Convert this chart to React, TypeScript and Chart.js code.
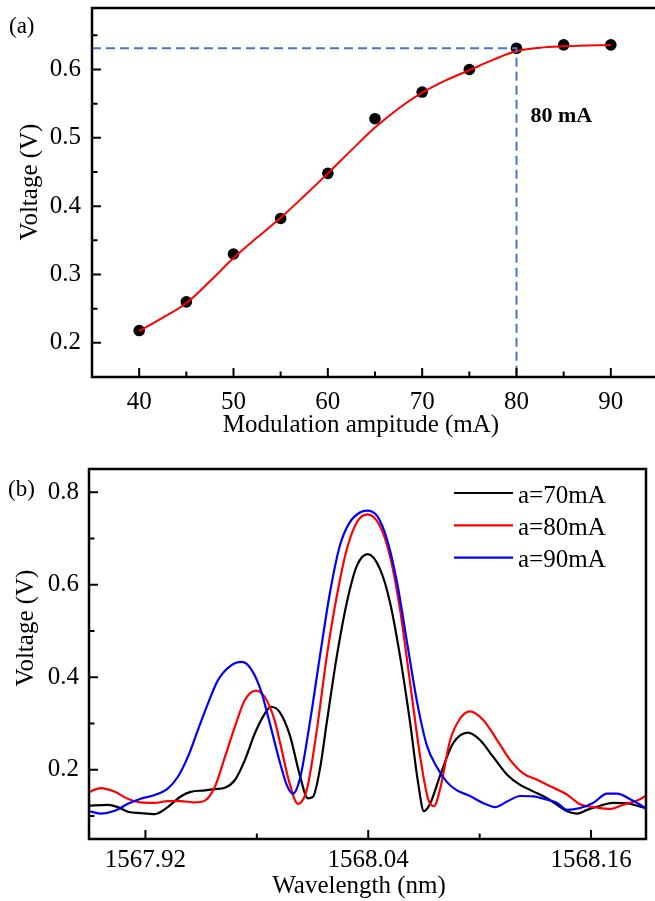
import React, { useEffect, useRef } from "react";
import { Chart, registerables } from "chart.js";

Chart.register(...registerables);

const SERIF = '"Liberation Serif", "Times New Roman", Times, serif';

// ---------- Panel (a) ----------
const ampMeasuredX = [40, 45, 50, 55, 60, 65, 70, 75, 80, 85, 90];
const ampMeasuredV = [0.218, 0.26, 0.33, 0.382, 0.448, 0.528, 0.567, 0.6, 0.631, 0.636, 0.636];
const ampFitX = [40, 42.5, 45, 47.5, 50, 52.5, 55, 57.5, 60, 62.5, 65, 67.5, 70, 72.5, 75, 77.5, 80, 82.5, 85, 87.5, 90];
const ampFitV = [0.217, 0.237, 0.258, 0.29, 0.324, 0.354, 0.383, 0.415, 0.448, 0.482, 0.515, 0.543, 0.566, 0.584, 0.599, 0.614, 0.627, 0.632, 0.634, 0.635, 0.636];
const guideX = [35, 80, 80];
const guideV = [0.631, 0.631, 0.15];
const ampTicks = [40, 50, 60, 70, 80, 90];
const ampMinorTicks = [45, 55, 65, 75, 85];
const voltTicksA = [0.2, 0.3, 0.4, 0.5, 0.6];
const voltMinorA = [0.25, 0.35, 0.45, 0.55, 0.65];

// ---------- Panel (b) ----------
const wavelength70 = [1567.8889, 1567.8997, 1567.9051, 1567.9105, 1567.9175, 1567.925, 1567.932, 1567.939, 1567.9444, 1567.952, 1567.9574, 1567.9628, 1567.9681, 1567.9735, 1567.9789, 1567.9843, 1567.9876, 1567.9924, 1567.9978, 1568.0032, 1568.0075, 1568.0102, 1568.014, 1568.0177, 1568.0231, 1568.0285, 1568.0339, 1568.0398, 1568.0463, 1568.0517, 1568.0571, 1568.0625, 1568.0668, 1568.07, 1568.0733, 1568.0787, 1568.0857, 1568.0937, 1568.1002, 1568.1072, 1568.1148, 1568.1218, 1568.1288, 1568.1363, 1568.1417, 1568.1471, 1568.1525, 1568.1579, 1568.1649, 1568.1719, 1568.1795, 1568.1865, 1568.1902];
const voltage70 = [0.122, 0.124, 0.119, 0.109, 0.106, 0.104, 0.119, 0.142, 0.152, 0.155, 0.158, 0.161, 0.177, 0.22, 0.278, 0.321, 0.336, 0.324, 0.274, 0.187, 0.138, 0.141, 0.202, 0.303, 0.446, 0.562, 0.641, 0.666, 0.634, 0.562, 0.446, 0.303, 0.173, 0.11, 0.126, 0.187, 0.257, 0.28, 0.264, 0.228, 0.189, 0.167, 0.153, 0.138, 0.124, 0.11, 0.105, 0.113, 0.122, 0.128, 0.127, 0.12, 0.117];

const wavelength80 = [1567.8889, 1567.8959, 1567.9035, 1567.9105, 1567.9175, 1567.925, 1567.932, 1567.939, 1567.9466, 1567.952, 1567.9574, 1567.9628, 1567.9681, 1567.9735, 1567.9795, 1567.9843, 1567.9897, 1567.9924, 1567.9978, 1568.0021, 1568.007, 1568.0124, 1568.0177, 1568.0231, 1568.0285, 1568.0339, 1568.0398, 1568.0463, 1568.0517, 1568.0571, 1568.0625, 1568.0679, 1568.0722, 1568.0754, 1568.0787, 1568.084, 1568.0894, 1568.0948, 1568.1018, 1568.1094, 1568.1164, 1568.1234, 1568.1309, 1568.138, 1568.1471, 1568.1541, 1568.1633, 1568.1703, 1568.1773, 1568.1849, 1568.1902];
const voltage80 = [0.15, 0.16, 0.152, 0.137, 0.129, 0.128, 0.132, 0.132, 0.129, 0.133, 0.163, 0.227, 0.292, 0.35, 0.371, 0.357, 0.305, 0.26, 0.168, 0.126, 0.158, 0.288, 0.446, 0.576, 0.677, 0.735, 0.752, 0.727, 0.662, 0.547, 0.389, 0.23, 0.137, 0.121, 0.158, 0.262, 0.31, 0.326, 0.308, 0.264, 0.221, 0.192, 0.178, 0.164, 0.146, 0.125, 0.118, 0.115, 0.124, 0.133, 0.145];

const wavelength90 = [1567.8889, 1567.8959, 1567.9035, 1567.9105, 1567.9175, 1567.925, 1567.932, 1567.9374, 1567.9428, 1567.9482, 1567.9536, 1567.959, 1567.966, 1567.9719, 1567.9768, 1567.9822, 1567.987, 1567.9924, 1567.9962, 1567.9994, 1568.0032, 1568.0086, 1568.014, 1568.0194, 1568.0247, 1568.0301, 1568.0355, 1568.0393, 1568.0447, 1568.0501, 1568.0555, 1568.0609, 1568.0663, 1568.0716, 1568.077, 1568.0824, 1568.0878, 1568.0948, 1568.1018, 1568.1083, 1568.1148, 1568.1218, 1568.1288, 1568.1363, 1568.1417, 1568.1471, 1568.1541, 1568.1611, 1568.1687, 1568.1741, 1568.1811, 1568.1865, 1568.1902];
const voltage90 = [0.111, 0.105, 0.111, 0.126, 0.137, 0.145, 0.159, 0.184, 0.227, 0.285, 0.342, 0.393, 0.425, 0.433, 0.418, 0.371, 0.3, 0.216, 0.166, 0.148, 0.18, 0.303, 0.446, 0.583, 0.684, 0.735, 0.756, 0.76, 0.749, 0.698, 0.605, 0.475, 0.346, 0.252, 0.205, 0.173, 0.155, 0.143, 0.128, 0.119, 0.131, 0.143, 0.142, 0.135, 0.128, 0.113, 0.117, 0.128, 0.148, 0.148, 0.136, 0.124, 0.113];

const seriesLabels = ["a=70mA", "a=80mA", "a=90mA"];
const seriesColors = ["#000000", "#ff0000", "#0000ff"];
const wlTicks = [1567.92, 1568.04, 1568.16];
const wlMinorTicks = [1567.98, 1568.1];
const voltTicksB = [0.2, 0.4, 0.6, 0.8];
const voltMinorB = [0.1, 0.3, 0.5, 0.7];

const pts = (xs: number[], ys: number[]) => xs.map((x, i) => ({ x, y: ys[i] }));

function framePlugin(o: any) {
  return {
    id: "frame",
    afterDraw(chart: any) {
      const { ctx, chartArea: a } = chart;
      const xs = chart.scales.x;
      const ys = chart.scales.y;
      ctx.save();
      ctx.strokeStyle = "#000";
      ctx.lineWidth = 2;
      ctx.beginPath();
      for (const v of o.xMajor) { const p = xs.getPixelForValue(v); ctx.moveTo(p, a.bottom); ctx.lineTo(p, a.bottom - 9); }
      for (const v of o.xMinor) { const p = xs.getPixelForValue(v); ctx.moveTo(p, a.bottom); ctx.lineTo(p, a.bottom - 5.5); }
      for (const v of o.yMajor) { const p = ys.getPixelForValue(v); ctx.moveTo(a.left, p); ctx.lineTo(a.left + 9, p); }
      for (const v of o.yMinor) { const p = ys.getPixelForValue(v); ctx.moveTo(a.left, p); ctx.lineTo(a.left + 5.5, p); }
      ctx.stroke();
      ctx.lineWidth = 2.5;
      ctx.lineCap = "square";
      ctx.beginPath();
      ctx.moveTo(a.right, a.top);
      ctx.lineTo(a.left, a.top);
      ctx.lineTo(a.left, a.bottom);
      ctx.lineTo(a.right, a.bottom);
      if (o.rightBorder) ctx.lineTo(a.right, a.top);
      ctx.stroke();
      ctx.fillStyle = "#000";
      o.draw(ctx, chart);
      ctx.restore();
    },
  };
}

function baseScales(o: any) {
  return {
    x: {
      type: "linear",
      min: o.xMin,
      max: o.xMax,
      grid: { display: false, drawTicks: false },
      border: { display: false },
      afterBuildTicks: (s: any) => { s.ticks = o.xTicks.map((v: number) => ({ value: v })); },
      afterFit: (s: any) => { s.height = o.xHeight; s.paddingLeft = 0; s.paddingRight = 0; },
      ticks: { autoSkip: false, maxRotation: 0, padding: o.xPad, color: "#000", font: { family: SERIF, size: 25 }, callback: o.xFmt },
    },
    y: {
      type: "linear",
      min: o.yMin,
      max: o.yMax,
      grid: { display: false, drawTicks: false },
      border: { display: false },
      afterBuildTicks: (s: any) => { s.ticks = o.yTicks.map((v: number) => ({ value: v })); },
      afterFit: (s: any) => { s.width = o.yWidth; s.paddingTop = 0; s.paddingBottom = 0; },
      ticks: { autoSkip: false, padding: o.yPad, color: "#000", font: { family: SERIF, size: 25 }, callback: (v: any) => Number(v).toFixed(1) },
    },
  };
}

function configA(): any {
  return {
    type: "line",
    data: {
      datasets: [
        { label: "80 mA guide", data: pts(guideX, guideV), borderColor: "#4a76c8", borderWidth: 2, borderDash: [9, 5], pointRadius: 0, tension: 0, order: 0 },
        { label: "fit", data: pts(ampFitX, ampFitV), borderColor: "#ff0000", borderWidth: 2, pointRadius: 0, tension: 0.4, cubicInterpolationMode: "monotone", order: 1 },
        { label: "measured", data: pts(ampMeasuredX, ampMeasuredV), showLine: false, pointRadius: 5.8, pointBackgroundColor: "#000", pointBorderWidth: 0, borderColor: "#000", order: 2 },
      ],
    },
    options: {
      animation: false,
      responsive: false,
      devicePixelRatio: 1,
      events: [],
      layout: { padding: { left: 0, top: 8, right: 7, bottom: 0 } },
      plugins: { legend: { display: false }, tooltip: { enabled: false } },
      scales: baseScales({
        xMin: 35, xMax: 95, xTicks: ampTicks, xHeight: 73, xPad: 10, xFmt: (v: any) => String(v),
        yMin: 0.15, yMax: 0.69, yTicks: voltTicksA, yWidth: 92, yPad: 11,
      }),
    },
    plugins: [
      framePlugin({
        xMajor: ampTicks, xMinor: ampMinorTicks, yMajor: voltTicksA, yMinor: voltMinorA, rightBorder: true,
        draw: (ctx: any, chart: any) => {
          const xs = chart.scales.x;
          const ys = chart.scales.y;
          ctx.textBaseline = "alphabetic";
          ctx.font = `25px ${SERIF}`;
          ctx.textAlign = "center";
          ctx.fillText("Modulation ampitude (mA)", 361, 432);
          ctx.save();
          ctx.translate(37, 182);
          ctx.rotate(-Math.PI / 2);
          ctx.fillText("Voltage (V)", 0, 0);
          ctx.restore();
          ctx.textAlign = "left";
          ctx.font = `23px ${SERIF}`;
          ctx.fillText("(a)", 9, 33);
          ctx.font = `bold 22px ${SERIF}`;
          ctx.fillText("80 mA", xs.getPixelForValue(80) + 14, ys.getPixelForValue(0.53) + 5);
        },
      }),
    ],
  };
}

function configB(): any {
  const wl = [wavelength70, wavelength80, wavelength90];
  const vv = [voltage70, voltage80, voltage90];
  return {
    type: "line",
    data: {
      datasets: seriesLabels.map((label, i) => ({
        label,
        data: pts(wl[i], vv[i]),
        borderColor: seriesColors[i],
        borderWidth: 2.2,
        pointRadius: 0,
        tension: 0.4,
        cubicInterpolationMode: "monotone",
        order: 2 - i,
      })),
    },
    options: {
      animation: false,
      responsive: false,
      devicePixelRatio: 1,
      events: [],
      layout: { padding: { left: 0, top: 19, right: 9, bottom: 0 } },
      plugins: { legend: { display: false }, tooltip: { enabled: false } },
      scales: baseScales({
        xMin: 1567.8896, xMax: 1568.1896, xTicks: wlTicks, xHeight: 62, xPad: 6, xFmt: (v: any) => Number(v).toFixed(2),
        yMin: 0.05, yMax: 0.85, yTicks: voltTicksB, yWidth: 89, yPad: 10,
      }),
    },
    plugins: [
      framePlugin({
        xMajor: wlTicks, xMinor: wlMinorTicks, yMajor: voltTicksB, yMinor: voltMinorB, rightBorder: true,
        draw: (ctx: any, chart: any) => {
          ctx.textBaseline = "alphabetic";
          ctx.font = `25px ${SERIF}`;
          ctx.textAlign = "center";
          ctx.fillText("Wavelength (nm)", 359, 443);
          ctx.save();
          ctx.translate(33, 178);
          ctx.rotate(-Math.PI / 2);
          ctx.fillText("Voltage (V)", 0, 0);
          ctx.restore();
          ctx.textAlign = "left";
          ctx.font = `23px ${SERIF}`;
          ctx.fillText("(b)", 8, 46);
          // legend
          ctx.font = `25px ${SERIF}`;
          chart.data.datasets.forEach((ds: any, i: number) => {
            const y = 43 + i * 32.3;
            ctx.strokeStyle = ds.borderColor;
            ctx.lineWidth = 2.2;
            ctx.lineCap = "butt";
            ctx.beginPath();
            ctx.moveTo(454, y);
            ctx.lineTo(513, y);
            ctx.stroke();
            ctx.fillText(ds.label, 518, y + 9.5);
          });
        },
      }),
    ],
  };
}

function ChartCanvas({ make, left, top, width, height }: any) {
  const ref = useRef<HTMLCanvasElement>(null);
  useEffect(() => {
    const chart = new Chart(ref.current as HTMLCanvasElement, make());
    return () => chart.destroy();
  }, []);
  return (
    <canvas
      ref={ref}
      width={width}
      height={height}
      style={{ position: "absolute", left, top, width, height, display: "block" }}
    />
  );
}

export default function App() {
  return (
    <div style={{ position: "absolute", left: 0, top: 0, width: 655, height: 901, overflow: "hidden", background: "#fff" }}>
      <ChartCanvas make={configA} left={0} top={0} width={665} height={450} />
      <ChartCanvas make={configB} left={0} top={450} width={655} height={451} />
    </div>
  );
}
